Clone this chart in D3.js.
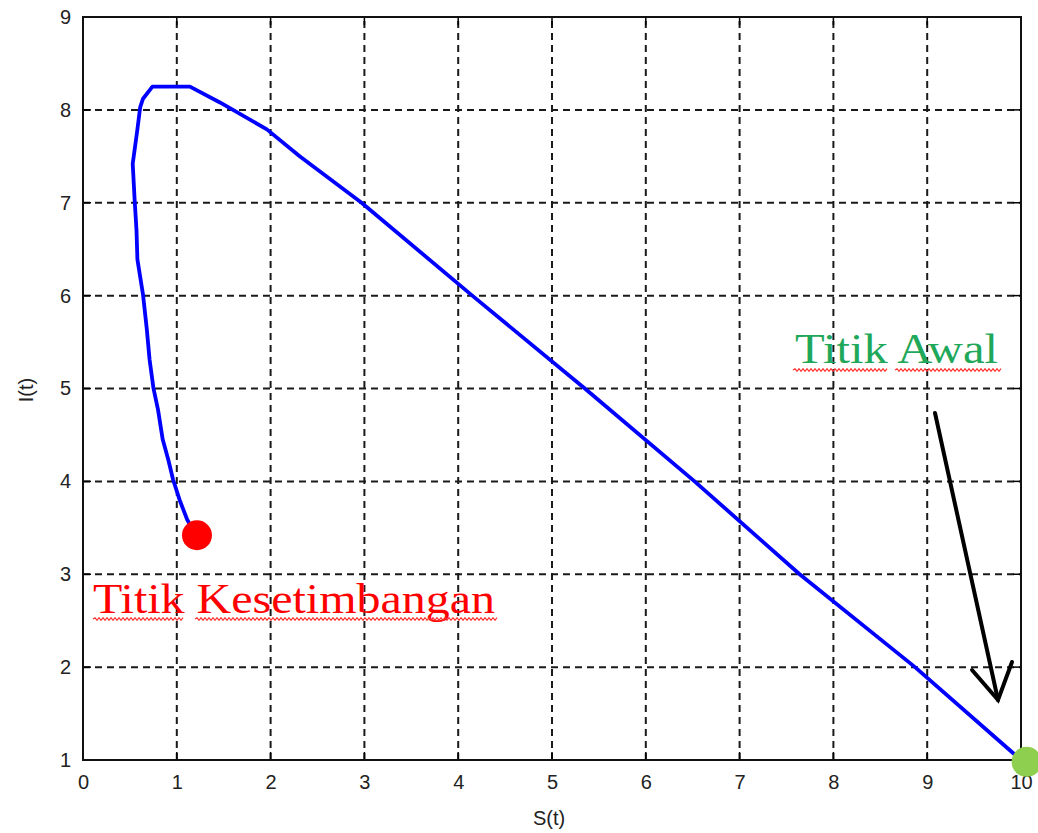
<!DOCTYPE html>
<html><head><meta charset="utf-8">
<script src="https://cdn.jsdelivr.net/npm/d3@7"></script>
<style>body{margin:0;background:#fff;}svg{display:block;}</style>
</head><body>
<svg id="c" width="1038" height="833"></svg>
<script>
// ---- data ----
const sValues = [10, 8.87, 7.64, 6.52, 5.35, 4.15, 2.97, 2.31, 1.96, 1.46, 1.14, 0.74, 0.64, 0.61, 0.58, 0.53, 0.55, 0.57, 0.58, 0.64, 0.68, 0.71, 0.75, 0.80, 0.85, 0.91, 0.96, 1.03, 1.11, 1.16];
const iValues = [1.0, 2.0, 3.0, 4.0, 5.0, 6.0, 7.0, 7.5, 7.79, 8.08, 8.25, 8.25, 8.12, 8.03, 7.79, 7.42, 7.04, 6.71, 6.39, 6.01, 5.64, 5.31, 5.01, 4.77, 4.45, 4.23, 4.02, 3.80, 3.59, 3.50];
const xTicks = [0,1,2,3,4,5,6,7,8,9,10];
const yTicks = [1,2,3,4,5,6,7,8,9];
const startPoint = {s: 10.06, i: 0.98, label: "Titik Awal"};
const equilibriumPoint = {s: 1.215, i: 3.42, label: "Titik Kesetimbangan"};
const xLabel = "S(t)", yLabel = "I(t)";

// ---- layout ----
const W = 1038, H = 833;
const m = {left: 83, top: 17, right: 17, bottom: 73};
const svg = d3.select("#c");
const x = d3.scaleLinear().domain([0,10]).range([m.left, W - m.right]);
const y = d3.scaleLinear().domain([1,9]).range([H - m.bottom, m.top]);
const x0 = x.range()[0], x1 = x.range()[1], y0 = y.range()[0], y1 = y.range()[1];

// grid
const g = svg.append("g");
g.selectAll("line.vg").data(xTicks.slice(1,-1)).join("line")
  .attr("x1", d => x(d)).attr("x2", d => x(d)).attr("y1", y0).attr("y2", y1)
  .attr("stroke", "#1a1a1a").attr("stroke-width", 2).attr("stroke-dasharray", "7,5");
g.selectAll("line.hg").data(yTicks.slice(1,-1)).join("line")
  .attr("y1", d => y(d)).attr("y2", d => y(d)).attr("x1", x0).attr("x2", x1)
  .attr("stroke", "#1a1a1a").attr("stroke-width", 2).attr("stroke-dasharray", "7,5");

// axes (labels)
const font = "Arial, 'Liberation Sans', sans-serif";
const xAxis = svg.append("g").attr("transform", `translate(0,${y0})`)
  .call(d3.axisBottom(x).tickValues(xTicks).tickFormat(d3.format("d")).tickSize(0).tickPadding(15));
const yAxis = svg.append("g").attr("transform", `translate(${x0},0)`)
  .call(d3.axisLeft(y).tickValues(yTicks).tickFormat(d3.format("d")).tickSize(0).tickPadding(12));
[xAxis, yAxis].forEach(a => {
  a.select(".domain").remove();
  a.selectAll("text").attr("font-family", font).attr("font-size", 20).attr("fill", "#222");
});

// inner tick marks
const tk = svg.append("g").attr("stroke", "#000").attr("stroke-width", 1.5);
xTicks.forEach(d => {
  tk.append("line").attr("x1", x(d)).attr("x2", x(d)).attr("y1", y0).attr("y2", y0 - 8);
  tk.append("line").attr("x1", x(d)).attr("x2", x(d)).attr("y1", y1).attr("y2", y1 + 8);
});
yTicks.forEach(d => {
  tk.append("line").attr("y1", y(d)).attr("y2", y(d)).attr("x1", x0).attr("x2", x0 + 8);
  tk.append("line").attr("y1", y(d)).attr("y2", y(d)).attr("x1", x1).attr("x2", x1 - 8);
});

// frame
svg.append("rect").attr("x", x0).attr("y", y1).attr("width", x1 - x0).attr("height", y0 - y1)
  .attr("fill", "none").attr("stroke", "#111").attr("stroke-width", 2);

// axis titles
svg.append("text").attr("x", 549).attr("y", 825).attr("text-anchor", "middle")
  .attr("font-family", font).attr("font-size", 20).attr("fill", "#222").text(xLabel);
svg.append("text").attr("transform", "translate(33,390) rotate(-90)").attr("text-anchor", "middle")
  .attr("font-family", font).attr("font-size", 20).attr("fill", "#222").text(yLabel);

// trajectory
const pts = sValues.map((s, k) => [s, iValues[k]]);
svg.append("path").datum(pts)
  .attr("d", d3.line().x(d => x(d[0])).y(d => y(d[1])))
  .attr("fill", "none").attr("stroke", "#0000ff").attr("stroke-width", 3.8).attr("stroke-linejoin", "round");

// points
svg.append("circle").attr("cx", x(equilibriumPoint.s)).attr("cy", y(equilibriumPoint.i)).attr("r", 15).attr("fill", "#ff0000");
svg.append("circle").attr("cx", x(startPoint.s)).attr("cy", y(startPoint.i)).attr("r", 15).attr("fill", "#8fcf4f");

// wavy underline helper
function wavy(xa, xb, yy) {
  let d = `M${xa},${yy}`;
  let up = true;
  for (let xx = xa + 2; xx <= xb; xx += 2) { d += `L${xx},${yy + (up ? -1.3 : 1.3)}`; up = !up; }
  svg.append("path").attr("d", d).attr("fill", "none").attr("stroke", "#ff3030").attr("stroke-width", 1.2);
}

const serif = "'Liberation Serif', 'Times New Roman', serif";
// equilibrium label
svg.append("text").attr("x", 93).attr("y", 613).attr("font-family", serif).attr("font-size", 42)
  .attr("fill", "#ff0000").attr("textLength", 402).attr("lengthAdjust", "spacingAndGlyphs").text(equilibriumPoint.label);
wavy(93, 183, 619);
wavy(195, 498, 619);

// start label
svg.append("text").attr("x", 795).attr("y", 363).attr("font-family", serif).attr("font-size", 42)
  .attr("fill", "#1fa85a").attr("textLength", 203).attr("lengthAdjust", "spacingAndGlyphs").text(startPoint.label);
wavy(793, 887, 370);
wavy(895, 1002, 370);

// arrow
const ar = svg.append("g").attr("stroke", "#000").attr("stroke-width", 4).attr("fill", "none").attr("stroke-linecap", "round");
ar.append("line").attr("x1", 935).attr("y1", 413).attr("x2", 998).attr("y2", 700);
ar.append("polyline").attr("points", "972,670 998,700 1012,662").attr("stroke-linejoin", "miter");
</script>
</body></html>
